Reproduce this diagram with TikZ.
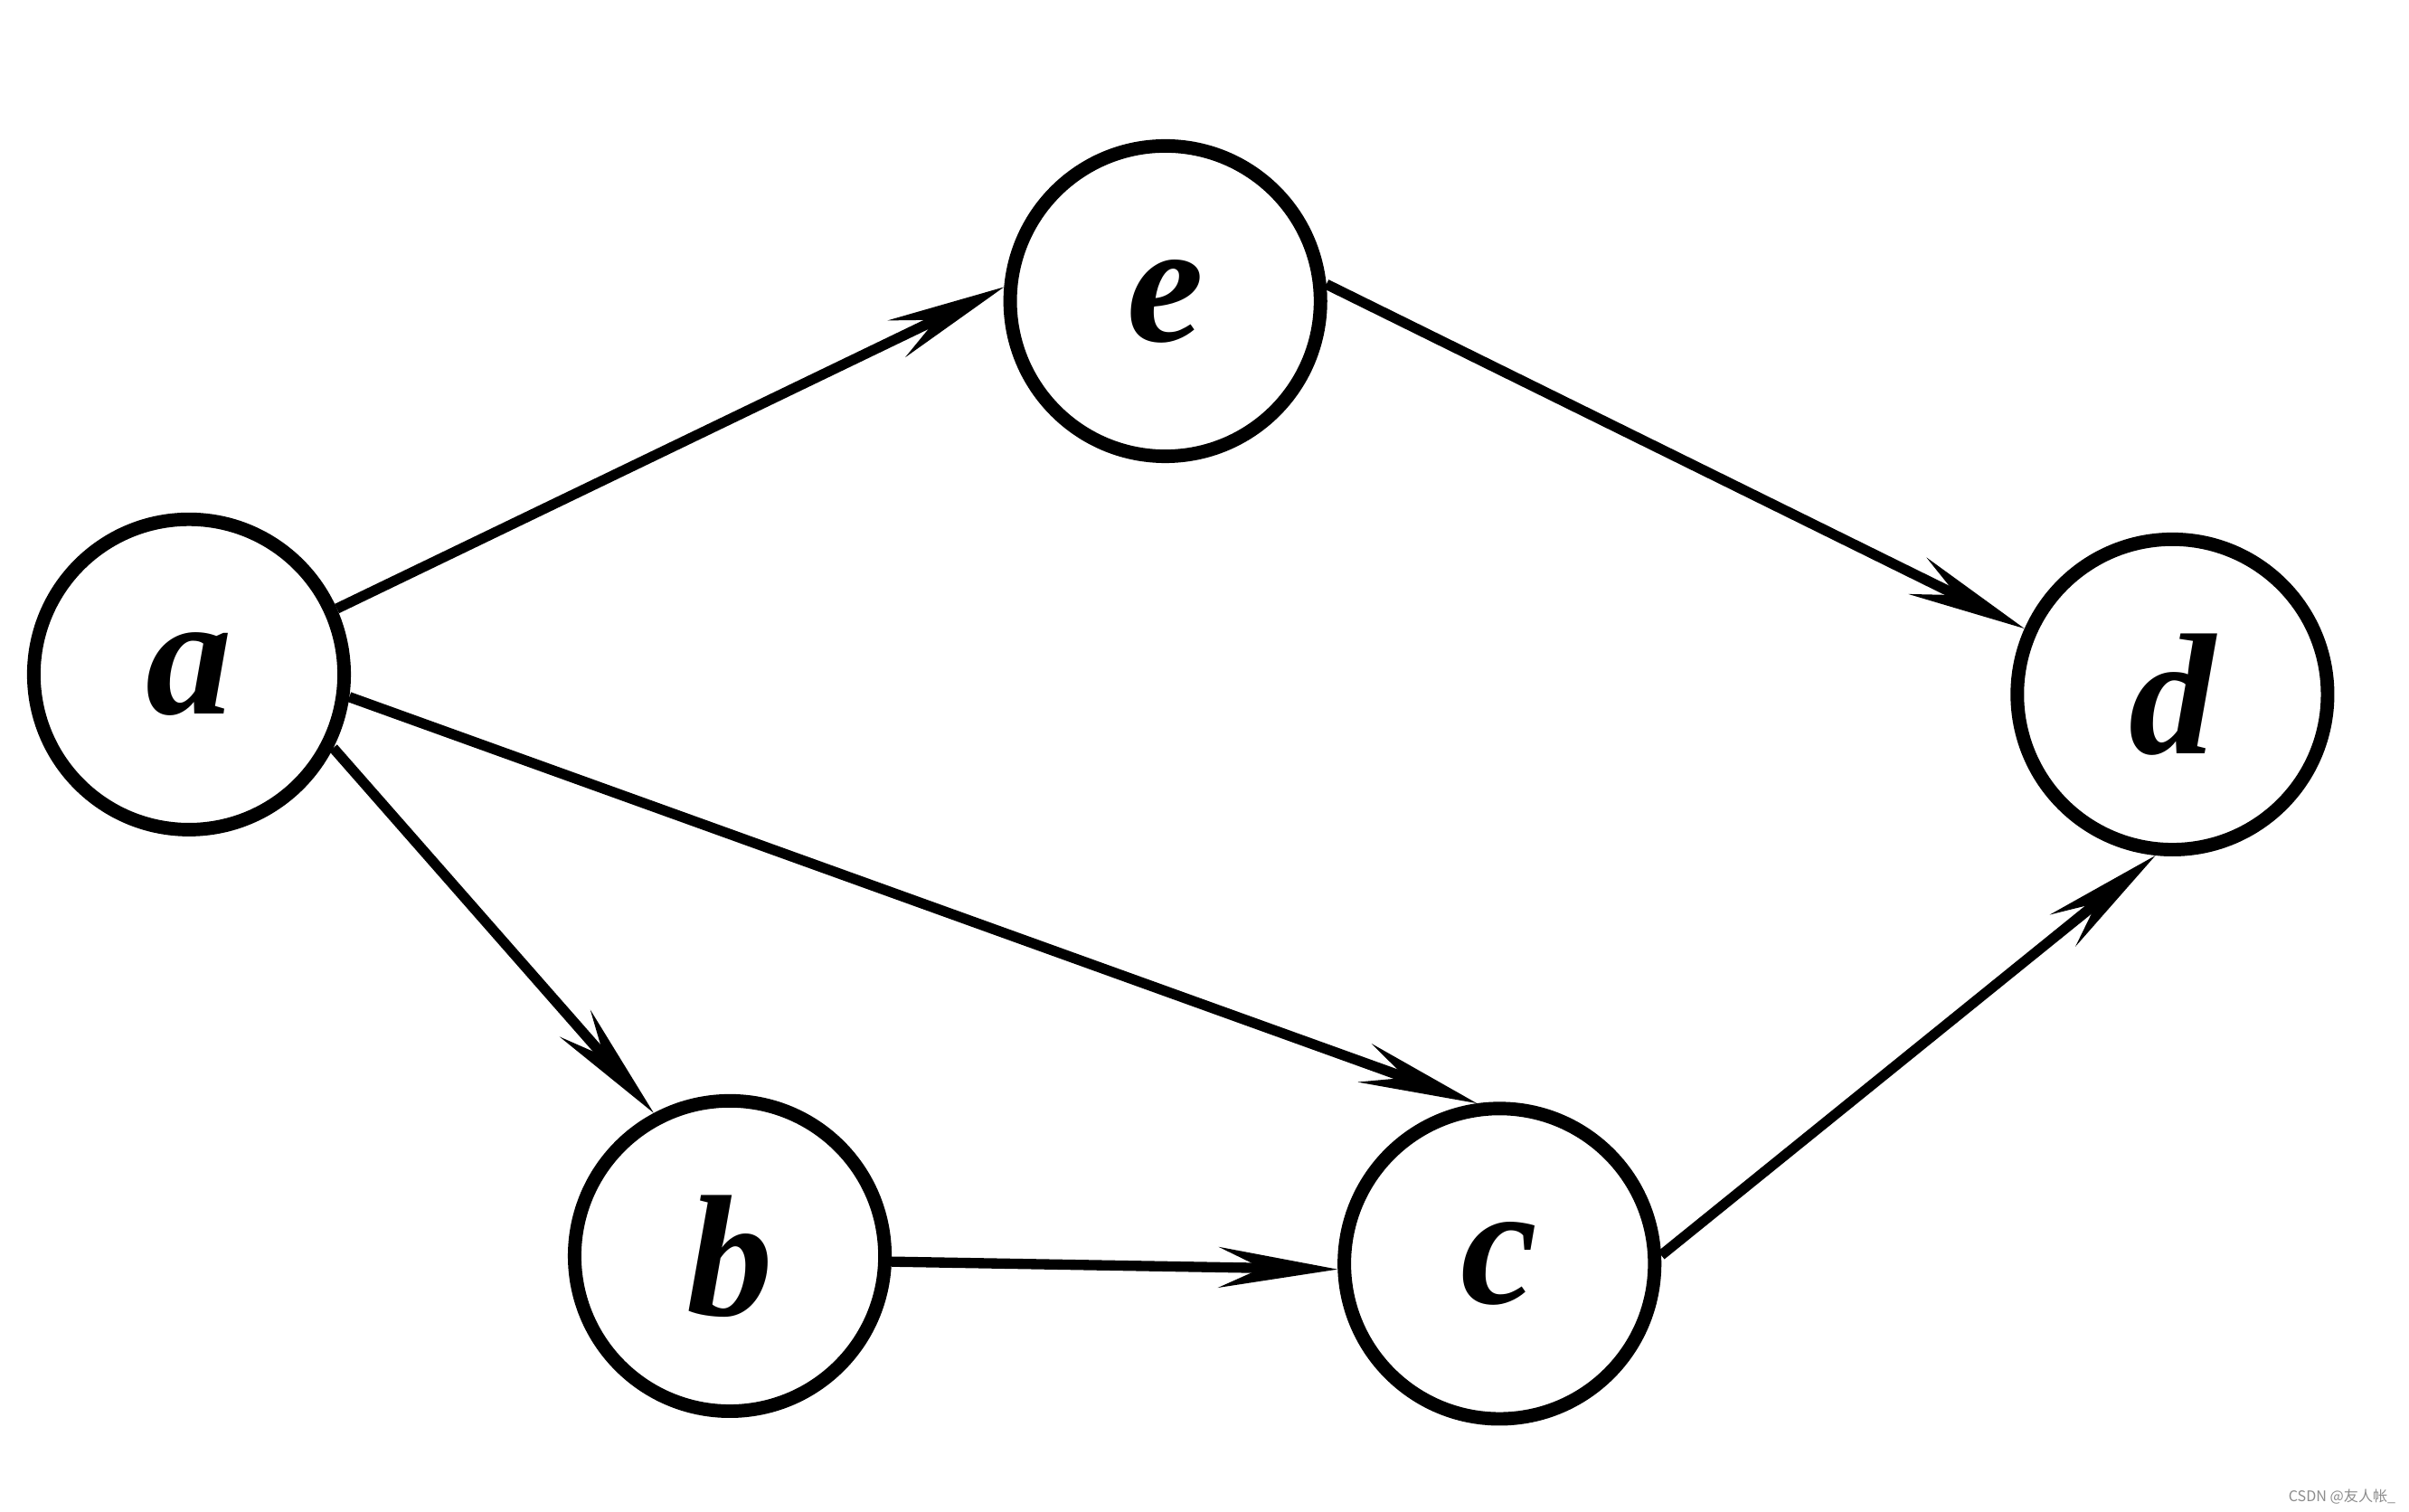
\documentclass[tikz,border=0pt]{standalone}
\usepackage{fontspec}
\setmainfont{Liberation Serif}
\newfontfamily\cjkfont{Noto Sans CJK SC}
\usetikzlibrary{arrows.meta}
\tikzset{
  vertex/.style={circle, draw, line width=2.5pt, minimum size=2.02cm, inner sep=0pt,
    font=\fontsize{32}{34}\selectfont\bfseries\itshape},
  edge/.style={line width=1.9pt, -{Stealth[length=22pt,width=7.5pt,inset=8pt]}}
}
\begin{document}
\begin{tikzpicture}
\useasboundingbox (0,0) rectangle (15.68,9.84);
\node[vertex] (a) at (1.23,5.45) {a};
\node[vertex] (e) at (7.585,7.88) {e};
\node[vertex] (d) at (14.14,5.32) {d};
\node[vertex] (b) at (4.75,1.665) {b};
\node[vertex] (c) at (9.76,1.615) {c};
\draw[edge] (a.24) -- (e.175);
\draw[edge] (e.6) -- (d.156);
\draw[edge] (a.-27) -- (b.118);
\draw[edge] (a.-8) -- (c.98);
\draw[edge] (b.-2) -- (c.182);
\draw[edge] (c.3) -- (d.-96);
\node[anchor=east, inner sep=0pt, text=black!45, font=\cjkfont\fontsize{2.7}{3}\selectfont] (wm) at (15.6,0.10) {CSDN @友人帐\_};
\end{tikzpicture}
\end{document}
